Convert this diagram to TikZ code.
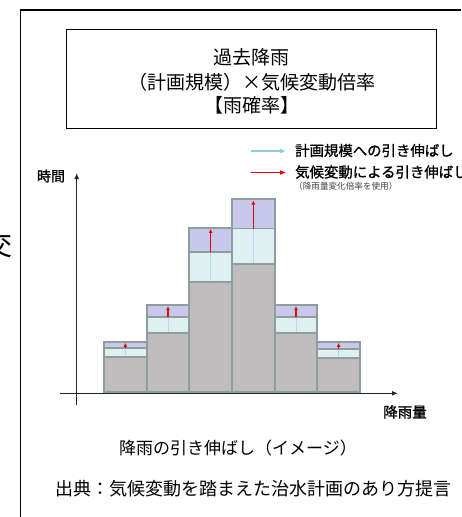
\documentclass[tikz,border=0pt]{standalone}
\usepackage{fontspec}
\newfontfamily\jp{Noto Sans CJK JP}
\newfontfamily\jpb[FakeBold=1.2]{Noto Sans CJK JP}
\usetikzlibrary{arrows.meta}
\definecolor{barline}{HTML}{8E9E9E}
\definecolor{grayfill}{HTML}{BEBCBC}
\definecolor{lightfill}{HTML}{DFF0F0}
\definecolor{purplefill}{HTML}{C8C8EA}
\definecolor{legblue}{HTML}{8ECDE6}
\definecolor{legred}{HTML}{E00010}
\tikzset{
  axisline/.style={line width=1.3pt, draw=black!85, -{Latex[length=6pt,width=5pt]}},
  barborder/.style={draw=barline, line width=1.8pt},
  redarrow/.style={draw=legred, line width=1.4pt, -{Latex[length=4pt,width=4pt]}},
  bluearrow/.style={draw=legblue, line width=1.2pt, -{Latex[length=6pt,width=5pt]}},
  legredarrow/.style={draw=legred, line width=1.2pt, -{Latex[length=6pt,width=5pt]}},
  txt/.style={inner sep=0pt, font=\jp},
}
\begin{document}
\begin{tikzpicture}[x=1pt,y=-1pt]
\useasboundingbox (0,0) rectangle (461,517);
% frame
\draw[line width=2.6pt] (20,10) -- (461,10);
\draw[line width=1.5pt] (20.5,9) -- (20.5,517);
% fragment of neighbouring text
\begin{scope}
\clip (0,215) rectangle (13,270);
\node[txt, font=\jp\fontsize{28}{28}\selectfont] (frag) at (-2,245) {交};
\end{scope}
% title box
\node[draw, line width=1.1pt, minimum width=370pt, minimum height=99pt, inner sep=0pt] (titlebox) at (251.7,78.8) {};
\node[txt, font=\jp\fontsize{19}{19}\selectfont] (t1) at (251.7,57.5) {過去降雨};
\node[txt, font=\jp\fontsize{19}{19}\selectfont] (t2) at (251.7,82) {（計画規模）×気候変動倍率};
\node[txt, font=\jp\fontsize{19}{19}\selectfont] (t3) at (251.7,105.5) {【雨確率】};
% legend
\coordinate (lb1) at (251,151);
\coordinate (lb2) at (286,151);
\draw[bluearrow] (lb1) -- (lb2);
\node[txt, anchor=west, font=\jpb\fontsize{14.4}{14.4}\selectfont] (leg1) at (295,150.5) {計画規模への引き伸ばし};
\coordinate (lr1) at (251,172.5);
\coordinate (lr2) at (286,172.5);
\draw[legredarrow] (lr1) -- (lr2);
\node[txt, anchor=west, font=\jpb\fontsize{14.4}{14.4}\selectfont] (leg2) at (295,172) {気候変動による引き伸ばし};
\node[txt, anchor=west, font=\jp\fontsize{8.6}{8.6}\selectfont, text=black!75] (leg3) at (294,186) {（降雨量変化倍率を使用）};
% axes
\coordinate (xs) at (60,393.3);
\coordinate (xe) at (398,393.3);
\coordinate (ys) at (76.7,405);
\coordinate (ye) at (76.7,173);
\draw[axisline] (xs) -- (xe);
\draw[axisline] (ys) -- (ye);
\node[txt, font=\jpb\fontsize{14}{14}\selectfont] (ylab) at (51,176) {時間};
\node[txt, font=\jpb\fontsize{14.5}{14.5}\selectfont] (xlab) at (405,412) {降雨量};
% bars: left / top / divide / gray-top
\foreach \x/\t/\d/\g in {104/341.7/348.3/357.3, 146.67/305/317.3/332.7, 189.33/227.7/252.3/281.7, 232/199.3/228.5/263.8, 274.67/305/317.3/332.7, 317.33/341.7/349/358}{
  \fill[grayfill] (\x,\g) rectangle (\x+42.67,392);
  \fill[lightfill] (\x,\d) rectangle (\x+42.67,\g);
  \fill[purplefill] (\x,\t) rectangle (\x+42.67,\d);
  \draw[legblue!70, line width=0.6pt] (\x+21.33,\g) -- (\x+21.33,\d);
  \draw[barborder] (\x,\t) rectangle (\x+42.67,392);
  \draw[barborder] (\x,\d) -- (\x+42.67,\d);
  \draw[barborder] (\x,\g) -- (\x+42.67,\g);
  \draw[redarrow] (\x+21.33,\d) -- (\x+21.33,\t+1.2);
}
% captions
\node[txt, font=\jp\fontsize{17}{17}\selectfont] (cap) at (238,448.5) {降雨の引き伸ばし（イメージ）};
\node[txt, font=\jp\fontsize{18}{18}\selectfont] (src) at (253,488.5) {出典：気候変動を踏まえた治水計画のあり方提言};
\end{tikzpicture}
\end{document}
